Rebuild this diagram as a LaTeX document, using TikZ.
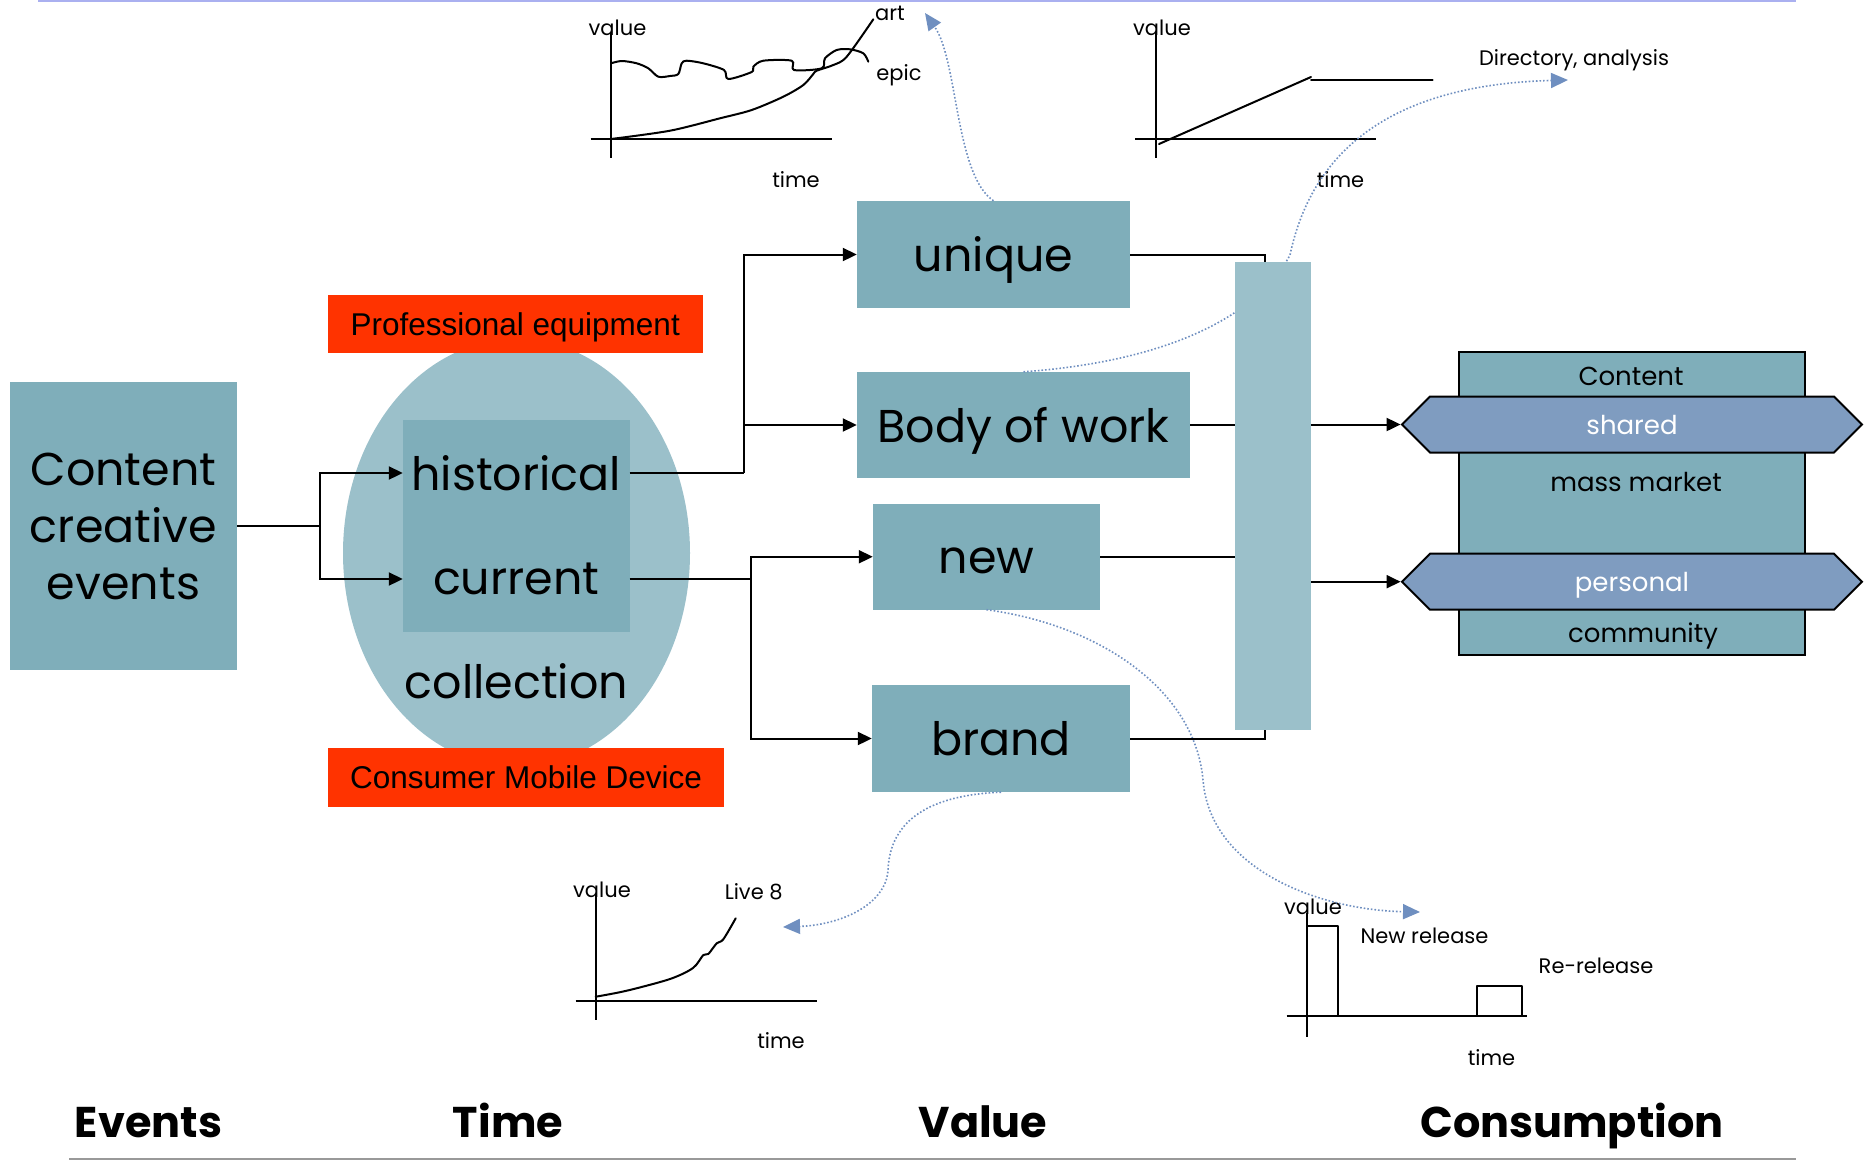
\documentclass[tikz,border=0pt]{standalone}
\usepackage{fontspec}
\setmainfont{Poppins}
\newfontfamily\arialfont{Liberation Sans}
\usetikzlibrary{arrows.meta,shapes.geometric,shapes.symbols}

\definecolor{tealbox}{HTML}{7FAEBA}
\definecolor{paleblue}{HTML}{9BC0CA}
\definecolor{alertred}{HTML}{FF3300}
\definecolor{steel}{HTML}{7F9CC0}
\definecolor{linkblue}{HTML}{6F8FC0}
\definecolor{rulelav}{HTML}{AAB0F0}
\definecolor{rulegray}{HTML}{999999}

\newcommand\fbig{\fontsize{46}{57}\selectfont}
\newcommand\fmid{\fontsize{26}{30}\selectfont}
\newcommand\fsmall{\fontsize{21}{25}\selectfont}
\newcommand\fred{\arialfont\fontsize{31.5}{36}\selectfont}
\newcommand\fhead{\bfseries\fontsize{43}{48}\selectfont}

\tikzset{
  tbox/.style={fill=tealbox, inner sep=0, font=\fbig},
  vbox/.style={tbox, text height=34, text depth=0},
  redbox/.style={fill=alertred, inner sep=0, font=\fred, text depth=0},
  plain/.style={inner sep=0},
  conn/.style={line width=2, draw=black},
  arr/.style={conn, -{Triangle[length=14,width=13]}},
  hexa/.style={signal, signal to=west and east, signal pointer angle=90,
    draw=black, line width=2, fill=steel, text=white, font=\fmid,
    minimum width=460, minimum height=56, inner sep=0, text depth=0},
  curve/.style={line width=2, line join=round, line cap=round},
  axis/.style={line width=2},
  link/.style={draw=linkblue, line width=1.6, dotted,
    -{Triangle[length=17,width=15]}},
  lbl/.style={inner sep=0, font=\fsmall, text depth=0},
  head/.style={inner sep=0, font=\fhead, anchor=base},
}

\begin{document}
\begin{tikzpicture}[x=1pt,y=-1pt]
\useasboundingbox (0,0) rectangle (1865,1160);

% rules at top and bottom
\draw[rulelav, line width=2] (38,1) -- (1796,1);
\draw[rulegray, line width=2.5] (69,1159) -- (1796,1159);

% events
\node[tbox, minimum width=227, minimum height=288, align=center] (events)
  at (123.5,526) {Content\\creative\\events};

% collection
\node[ellipse, fill=paleblue, minimum width=347, minimum height=428, inner sep=0]
  (coll) at (516.5,553) {};
\node[tbox, minimum width=226.5, minimum height=212] (inner) at (516.25,526) {};
\node[plain, font=\fbig, minimum width=226.5] (hist) at (516.25,473) {historical};
\node[plain, font=\fbig, minimum width=226.5] (curr) at (516.25,579) {current};
\node[plain, font=\fbig] (colltxt) at (516.5,681) {collection};
\node[redbox, minimum width=374.5, minimum height=58] (prof) at (515.25,324)
  {Professional equipment};
\node[redbox, minimum width=396, minimum height=59] (cons) at (526,777.5)
  {Consumer Mobile Device};

% value nodes
\node[vbox, minimum width=273, minimum height=107] (unique) at (993.5,254.5) {unique};
\node[vbox, minimum width=333, minimum height=106] (body) at (1023.5,425) {Body of work};
\node[vbox, minimum width=227, minimum height=105.5] (new) at (986.5,556.75) {new};
\node[vbox, minimum width=258, minimum height=107] (brand) at (1001,738.5) {brand};

% chart: art / epic
\node[lbl] (v1) at (617.5,28) {value};
\node[lbl] (t1) at (796,180) {time};
\node[lbl] (art) at (890,13) {art};
\node[lbl] (epic) at (899,73) {epic};
\draw[axis] (611,33) -- (611,158);
\draw[axis] (590.7,139) -- (831.7,139);
\draw[curve] plot[smooth, tension=0.5] coordinates {
  (611,63.3) (621.7,61) (636.7,63.3) (648.3,68.3) (658.3,76.7) (670,76)
  (678.3,74) (681.7,63.3) (686.7,60.7) (703.3,63.3) (724,70) (728.3,79)
  (751.7,72) (753.3,66.7) (763.3,60.7) (791.7,60.7) (794,70) (821.7,68.3)
  (825,58.3) (836.7,50) (850,49.3) (863.3,53.3) (868.3,61.7)};
\draw[curve] plot[smooth, tension=0.5] coordinates {
  (611,139) (670,130.7) (720,118.3) (751.7,110) (783.3,96.7) (803.3,85)
  (813.3,74) (816.7,70.7) (833.3,65) (846.7,56.7) (873.3,19.3)};

% chart: directory
\node[lbl] (v2) at (1162,28) {value};
\node[lbl] (t2) at (1340.5,180) {time};
\node[lbl] (dir) at (1574,58) {Directory, analysis};
\draw[axis] (1155.7,33) -- (1155.7,158);
\draw[axis] (1135,139) -- (1376,139);
\draw[curve] (1159,144) -- (1311,77);
\draw[curve] (1311,80) -- (1432.5,80);

% chart: live 8
\node[lbl] (v3) at (602,890) {value};
\node[lbl] (live) at (753.7,891) {Live 8};
\node[lbl] (t3) at (781,1040) {time};
\draw[axis] (595.7,895) -- (595.7,1020);
\draw[axis] (575.7,1000.7) -- (816.7,1000.7);
\draw[curve] plot[smooth, tension=0.5] coordinates {
  (595.7,996.7) (626.7,990.7) (670,979) (693,968) (703.3,955) (708.3,954)
  (716.7,943.3) (723.3,939.3) (735.7,918.3)};

% chart: releases
\node[lbl] (v4) at (1313,906.7) {value};
\node[lbl] (nr) at (1424.5,936) {New release};
\node[lbl] (rr) at (1596,966) {Re-release};
\node[lbl] (t4) at (1491.5,1057) {time};
\draw[axis] (1306.7,913) -- (1306.7,1036.7);
\draw[axis] (1286.7,1016) -- (1527.3,1016);
\draw[curve, line cap=butt] (1306.7,1016) |- (1338.3,926) -- (1338.3,1016);
\draw[curve, line cap=butt] (1477,1016) |- (1522.3,986) -- (1522.3,1016);

% free ends of the dotted links
\coordinate (artTip) at (925,13);
\coordinate (dirTip) at (1568,80);
\coordinate (liveTip) at (783,927);
\coordinate (relTip) at (1420,912);

% dotted links from value nodes to their charts
\draw[link] (unique.north) .. controls (955,175) and (958,60) .. (artTip);
\draw[link] (body.north) .. controls (1160,362) and (1255,320) .. (1290,255)
  .. controls (1310,160) and (1380,85) .. (dirTip);
\draw[link] (new.south) .. controls (1100,625) and (1195,690) .. (1203,780)
  .. controls (1210,870) and (1320,910) .. (relTip);
\draw[link] (brand.south) .. controls (930,795) and (890,820) .. (888,870)
  .. controls (886,905) and (840,925) .. (liveTip);

% connectors into the bar
\draw[conn] (unique.east) -| ([xshift=-8]1273,262);
\draw[conn] (brand.east) -| ([xshift=-8]1273,730);

% aggregation bar
\node[fill=paleblue, minimum width=76, minimum height=468, inner sep=0] (bar)
  at (1273,496) {};
\draw[conn] (body.east) -- (body.east -| bar.west);
\draw[conn] (new.east) -- (new.east -| bar.west);

% consumption
\node[draw=black, line width=2, fill=tealbox, minimum width=346.3,
  minimum height=303.3, inner sep=0] (cbox) at (1631.85,503.35) {};
\node[plain, font=\fmid] (ctitle) at (1631,376) {Content};
\node[plain, font=\fmid] (mass) at (1636,482) {mass market};
\node[plain, font=\fmid, text depth=0] (comm) at (1643,633) {community};
\node[hexa] (shared) at (1632,424.5) {shared};
\node[hexa] (personal) at (1632,581.7) {personal};
\draw[arr] (bar.east |- shared.west) -- (shared.west);
\draw[arr] (bar.east |- personal.west) -- (personal.west);

% left connectors
\coordinate (j1) at (320,526);
\draw[conn] (events.east) -- (j1);
\draw[arr] (j1) |- (hist.west);
\draw[arr] (j1) |- (curr.west);
\coordinate (j2) at (743.7,473);
\draw[conn] (hist.east) -- (j2);
\draw[arr] (j2) |- (unique.west);
\draw[arr] (j2 |- body.west) -- (body.west);
\coordinate (j3) at (750.6,579);
\draw[conn] (curr.east) -- (j3);
\draw[arr] (j3) |- (new.west);
\draw[arr] (j3) |- (brand.west);

% column headings
\node[head] (hEvents) at (148.5,1137) {Events};
\node[head] (hTime) at (508,1137) {Time};
\node[head] (hValue) at (983,1137) {Value};
\node[head] (hCons) at (1572,1137) {Consumption};
\end{tikzpicture}
\end{document}
